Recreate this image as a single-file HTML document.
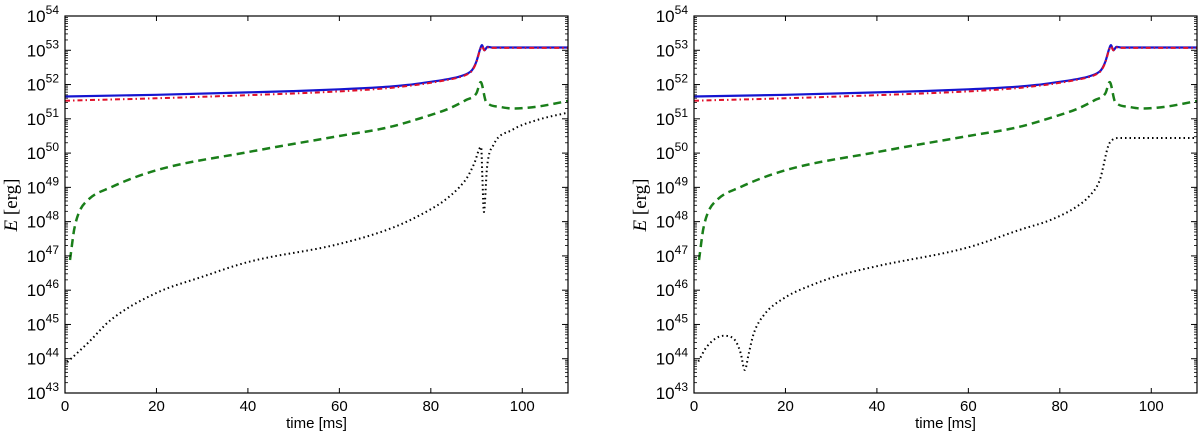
<!DOCTYPE html>
<html><head><meta charset="utf-8"><style>
html,body{margin:0;padding:0;background:#fff;}
svg{display:block;font-family:"Liberation Sans","DejaVu Sans",sans-serif;}
</style></head><body>
<svg id="chart" width="1200" height="433" viewBox="0 0 1200 433" xmlns="http://www.w3.org/2000/svg"></svg>
<script>
// ---- data (time in ms, log10 energy in erg) ----
const xTicks = [0, 20, 40, 60, 80, 100];
const yDecades = [43, 44, 45, 46, 47, 48, 49, 50, 51, 52, 53, 54];

const leftTotalT = [0, 20, 40, 50, 60, 71, 75, 80, 83, 86.2, 88, 89, 90, 90.7, 91.2, 91.7, 92.4, 93.5, 100, 110];
const leftTotalV = [51.65, 51.7, 51.77, 51.81, 51.86, 51.94, 51.99, 52.08, 52.14, 52.23, 52.32, 52.42, 52.68, 53.0, 53.15, 53.0, 53.1, 53.08, 53.08, 53.08];
const leftInternalT = [0, 20, 40, 50, 60, 71, 75, 80, 83, 86.2, 88, 89, 90, 90.7, 91.2, 91.7, 92.4, 93.5, 100, 110];
const leftInternalV = [51.53, 51.6, 51.69, 51.74, 51.8, 51.9, 51.96, 52.05, 52.12, 52.21, 52.3, 52.4, 52.66, 52.98, 53.12, 53.0, 53.08, 53.07, 53.07, 53.07];
const leftKineticT = [1.1, 2, 3, 5, 10, 20, 40, 60, 71, 79.7, 84, 87.7, 90, 90.9, 92.1, 95, 97.9, 103, 110];
const leftKineticV = [46.88, 47.76, 48.25, 48.63, 49.0, 49.5, 50.03, 50.5, 50.76, 51.1, 51.3, 51.55, 51.75, 52.07, 51.5, 51.35, 51.3, 51.35, 51.52];
const leftMagT = [0.5, 5, 10, 20, 30, 40, 60, 71.6, 79.7, 83, 86.2, 88, 89.5, 91, 91.3, 91.6, 92.3, 93.7, 97.7, 103.4, 110];
const leftMagV = [43.9, 44.46, 45.13, 45.92, 46.39, 46.82, 47.35, 47.82, 48.34, 48.62, 49.0, 49.3, 49.7, 50.18, 49.2, 48.28, 49.6, 50.24, 50.67, 50.97, 51.18];

const rightTotalT = leftTotalT;
const rightTotalV = leftTotalV;
const rightInternalT = leftInternalT;
const rightInternalV = leftInternalV;
const rightKineticT = leftKineticT;
const rightKineticV = leftKineticV;
const rightMagT = [0.95, 2.8, 6.5, 8.7, 10.2, 11.1, 12, 13.1, 15.3, 19.7, 24.8, 32, 40, 60, 71.2, 78, 83.6, 86.5, 88.7, 90.9, 93, 110];
const rightMagV = [43.92, 44.35, 44.67, 44.58, 44.17, 43.67, 44.17, 44.75, 45.28, 45.77, 46.1, 46.44, 46.7, 47.25, 47.76, 48.05, 48.43, 48.75, 49.2, 50.3, 50.44, 50.44];

const NS = "http://www.w3.org/2000/svg";
const svg = document.getElementById('chart');
function el(tag, attrs, parent) {
  const e = document.createElementNS(NS, tag);
  for (const k in attrs) e.setAttribute(k, attrs[k]);
  (parent || svg).appendChild(e);
  return e;
}
// monotone cubic path through points
function monoPath(px, py) {
  const n = px.length;
  if (n < 3) return 'M' + px[0] + ',' + py[0] + ' L' + px[1] + ',' + py[1];
  const d = [], m = new Array(n);
  for (let i = 0; i < n - 1; i++) d.push((py[i + 1] - py[i]) / (px[i + 1] - px[i]));
  m[0] = d[0]; m[n - 1] = d[n - 2];
  for (let i = 1; i < n - 1; i++) m[i] = (d[i - 1] * d[i] <= 0) ? 0 : (d[i - 1] + d[i]) / 2;
  for (let i = 0; i < n - 1; i++) {
    if (d[i] === 0) { m[i] = 0; m[i + 1] = 0; continue; }
    const a = m[i] / d[i], b = m[i + 1] / d[i], s = a * a + b * b;
    if (s > 9) { const t = 3 / Math.sqrt(s); m[i] = t * a * d[i]; m[i + 1] = t * b * d[i]; }
  }
  let p = 'M' + px[0].toFixed(1) + ',' + py[0].toFixed(1);
  for (let i = 0; i < n - 1; i++) {
    const h = (px[i + 1] - px[i]) / 3;
    p += ' C' + (px[i] + h).toFixed(1) + ',' + (py[i] + m[i] * h).toFixed(1) + ' ' +
      (px[i + 1] - h).toFixed(1) + ',' + (py[i + 1] - m[i + 1] * h).toFixed(1) + ' ' +
      px[i + 1].toFixed(1) + ',' + py[i + 1].toFixed(1);
  }
  return p;
}

function panel(x0, name, series) {
  const x1 = x0 + 503, y0 = 16, y1 = 393;
  const xs = t => x0 + (t / 110) * (x1 - x0);
  const ys = v => y1 - (v - 43) / 11 * (y1 - y0);
  const g = el('g', {});
  
  
  const clipId = 'clip-' + name;
  const cp = el('clipPath', {id: clipId}, g);
  el('rect', {x: x0, y: y0, width: x1 - x0, height: y1 - y0}, cp);
  const sg = el('g', {'clip-path': 'url(#' + clipId + ')'}, g);
  series.forEach(s => {
    const d = monoPath(s.t.map(xs), s.v.map(ys));
    const p = el('path', {d: d, fill: 'none', stroke: s.color, 'stroke-width': s.w, 'stroke-dasharray': s.dash, 'stroke-linejoin': 'round'}, sg);
    
    
  });
  const fr = el('rect', {x: x0, y: y0, width: x1 - x0, height: y1 - y0, fill: 'none', stroke: '#000', 'stroke-width': 1.2}, g);
  
  
  xTicks.forEach(t => {
    const x = xs(t);
    el('line', {x1: x, x2: x, y1: y1, y2: y1 - 5, stroke: '#000'}, g);
    el('line', {x1: x, x2: x, y1: y0, y2: y0 + 5, stroke: '#000'}, g);
    const tx = el('text', {x: x, y: y1 + 18, 'text-anchor': 'middle', 'font-size': 15}, g);
    tx.textContent = t;
    
    
  });
  yDecades.forEach(v => {
    const y = ys(v);
    el('line', {x1: x0, x2: x0 + 6, y1: y, y2: y, stroke: '#000'}, g);
    el('line', {x1: x1, x2: x1 - 6, y1: y, y2: y, stroke: '#000'}, g);
    if (v < 54) for (let m = 2; m <= 9; m++) {
      const ym = ys(v + Math.log10(m));
      el('line', {x1: x0, x2: x0 + 3, y1: ym, y2: ym, stroke: '#000', 'stroke-width': 0.8}, g);
      el('line', {x1: x1, x2: x1 - 3, y1: ym, y2: ym, stroke: '#000', 'stroke-width': 0.8}, g);
    }
    const tx = el('text', {x: x0 - 6, y: y + 6, 'text-anchor': 'end', 'font-size': 17}, g);
    
    
    const a = el('tspan', {}, tx); a.textContent = '10';
    const b = el('tspan', {dy: -8, 'font-size': 12}, tx); b.textContent = v;
  });
  const xl = el('text', {x: (x0 + x1) / 2, y: 428, 'text-anchor': 'middle', 'font-size': 15}, g);
  xl.textContent = 'time [ms]';
  
  
  const yl = el('text', {x: 0, y: 0, transform: 'translate(' + (x0 - 48) + ',205) rotate(-90)', 'text-anchor': 'middle', 'font-size': 19, 'font-family': '"Liberation Serif",serif'}, g);
  
  
  const i1 = el('tspan', {'font-style': 'italic'}, yl); i1.textContent = 'E';
  const i2 = el('tspan', {}, yl); i2.textContent = ' [erg]';
}

const dotted = '1.5,3', dashed = '8,5', dashdot = '5,3,1.5,3';
panel(65, 'left-panel', [
  {name: 'kinetic-energy-line', t: leftKineticT, v: leftKineticV, color: '#1a7f1a', w: 2.5, dash: dashed},
  {name: 'magnetic-energy-line', t: leftMagT, v: leftMagV, color: '#000', w: 2, dash: dotted},
  {name: 'total-energy-line', t: leftTotalT, v: leftTotalV, color: '#1515d0', w: 2.2, dash: 'none'},
  {name: 'internal-energy-line', t: leftInternalT, v: leftInternalV, color: '#e0102a', w: 2, dash: dashdot}
]);
panel(694, 'right-panel', [
  {name: 'kinetic-energy-line', t: rightKineticT, v: rightKineticV, color: '#1a7f1a', w: 2.5, dash: dashed},
  {name: 'magnetic-energy-line', t: rightMagT, v: rightMagV, color: '#000', w: 2, dash: dotted},
  {name: 'total-energy-line', t: rightTotalT, v: rightTotalV, color: '#1515d0', w: 2.2, dash: 'none'},
  {name: 'internal-energy-line', t: rightInternalT, v: rightInternalV, color: '#e0102a', w: 2, dash: dashdot}
]);
</script>
</body></html>
